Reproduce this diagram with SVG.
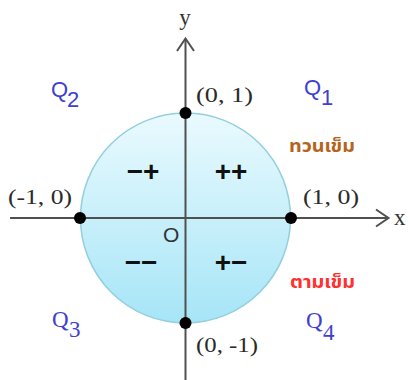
<svg xmlns="http://www.w3.org/2000/svg" width="412" height="380" viewBox="0 0 412 380">
<style>
.coord{font-family:"Liberation Serif","Times New Roman",serif;font-size:20px;fill:#2a2a2a}
.axl{font-family:"Liberation Serif","Times New Roman",serif;font-size:23px;fill:#333}
.sign{font-family:"Liberation Sans",Arial,sans-serif;font-size:28px;font-weight:bold;fill:#111}
.q{font-family:"Liberation Sans",Arial,sans-serif;font-size:22px;fill:#4040d0}
.qs{font-family:"Liberation Serif","Times New Roman",serif;font-size:23px;fill:#4040d0}
.thai{font-family:"Noto Sans Thai","Noto Sans Thai Looped","Loma","Garuda","Tahoma",sans-serif;font-size:17px;font-weight:bold}
.axis{stroke:#505050;stroke-width:2;fill:none}
.dot{fill:#000}
</style>
<defs>
<linearGradient id="cg" x1="0" y1="0" x2="0" y2="1">
<stop offset="0" stop-color="#eafafe"/>
<stop offset="1" stop-color="#a6e5f7"/>
</linearGradient>
</defs>
<rect width="412" height="380" fill="#fff"/>
<g id="circle">
<circle cx="185.5" cy="218" r="105" fill="url(#cg)" stroke="#93cfde" stroke-width="1.5"/>
</g>
<g id="connectors">
<line class="axis" x1="10" y1="218" x2="388" y2="218"/>
<polyline class="axis" points="376,209.5 388.5,218 376,226.5"/>
<line class="axis" x1="185.5" y1="380" x2="185.5" y2="39"/>
<polyline class="axis" points="177,51 185.5,38.5 194,51"/>
</g>
<g id="axis-labels">
<text class="axl" x="185" y="25" text-anchor="middle">y</text>
<text class="axl" x="394" y="225">x</text>
<text id="origin" x="163" y="242" font-family="Liberation Sans,Arial,sans-serif" font-size="21" fill="#333">O</text>
</g>
<g id="p-top">
<circle class="dot" cx="185.5" cy="113" r="6"/>
<text class="coord" x="196" y="102" textLength="57" lengthAdjust="spacingAndGlyphs">(0, 1)</text>
</g>
<g id="p-right">
<circle class="dot" cx="291" cy="218" r="6"/>
<text class="coord" x="303" y="204" textLength="56" lengthAdjust="spacingAndGlyphs">(1, 0)</text>
</g>
<g id="p-left">
<circle class="dot" cx="80" cy="218" r="6"/>
<text class="coord" x="8" y="204" textLength="64" lengthAdjust="spacingAndGlyphs">(-1, 0)</text>
</g>
<g id="p-bottom">
<circle class="dot" cx="185.5" cy="323" r="6"/>
<text class="coord" x="196" y="352" textLength="62" lengthAdjust="spacingAndGlyphs">(0, -1)</text>
</g>
<g id="signs">
<text class="sign" x="143" y="181" text-anchor="middle">−+</text>
<text class="sign" x="231" y="181" text-anchor="middle">++</text>
<text class="sign" x="141" y="272" text-anchor="middle">−−</text>
<text class="sign" x="231" y="272" text-anchor="middle">+−</text>
</g>
<g id="quadrants">
<text class="q" x="304" y="95">Q<tspan x="321" y="105">1</tspan></text>
<text class="q" x="51" y="97">Q<tspan x="67" y="107">2</tspan></text>
<text class="qs" x="52" y="327">Q<tspan x="69" y="337">3</tspan></text>
<text class="qs" x="306" y="328">Q<tspan x="323" y="340">4</tspan></text>
</g>
<g id="directions">
<text class="thai" x="289" y="152" fill="#b5641e" textLength="66" lengthAdjust="spacingAndGlyphs">ทวนเข็ม</text>
<text class="thai" x="290" y="288" fill="#ff3030" textLength="65" lengthAdjust="spacingAndGlyphs">ตามเข็ม</text>
</g>
</svg>
